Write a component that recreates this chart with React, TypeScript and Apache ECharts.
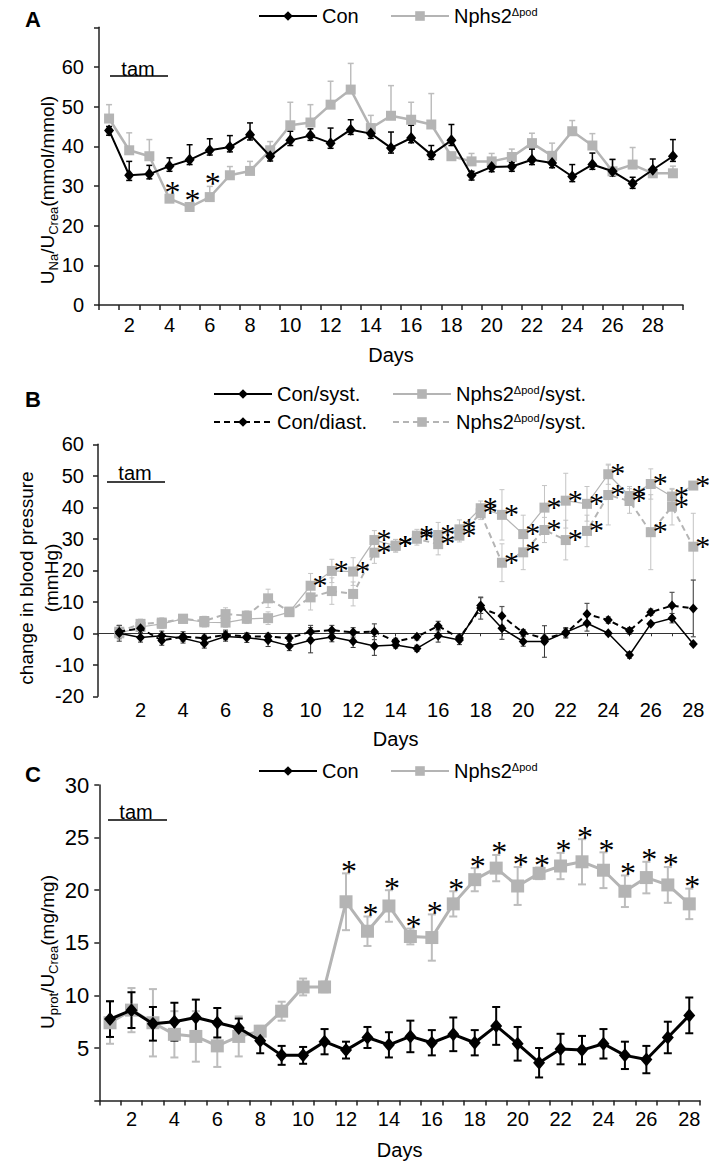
import React, { useEffect, useRef } from 'react';
import * as echarts from 'echarts';

const FONT = "'Liberation Sans', Arial, Helvetica, sans-serif";
const STAR_FONT = "'Liberation Serif', 'Times New Roman', serif";
const BLACK = '#000000';
const GRAY = '#b4b4b4';
const AXIS = '#222222';

// ---------- Panel A: U_Na / U_Crea ----------
const daysA = ['1','2','3','4','5','6','7','8','9','10','11','12','13','14','15','16','17','18','19','20','21','22','23','24','25','26','27','28','29'];
const conA = [44, 32.7, 33, 35, 36.6, 39, 39.8, 42.9, 37.5, 41.5, 42.7, 40.8, 44.2, 43.2, 39.6, 42.1, 37.9, 41.5, 32.7, 34.8, 34.9, 36.6, 35.8, 32.4, 35.4, 33.7, 30.6, 34.1, 37.5];
const conAErrHi = [1, 3.5, 2.2, 2.1, 3.8, 2.9, 2.9, 3, 1, 2.3, 1.7, 3.8, 2.5, 2, 4, 3.2, 2.3, 4, 1, 1, 1, 2.7, 1, 3, 2.9, 3, 1.6, 2.7, 4.2];
const conAErrLo = [1.2, 1.3, 1.2, 1.3, 1.2, 1.2, 1.2, 1.3, 1.2, 1.3, 1.2, 1.3, 1.2, 1.2, 1.3, 1.2, 1.2, 1.3, 1.2, 1.2, 1.2, 1.2, 1.2, 1.3, 1.2, 1.2, 1.2, 1.2, 1.3];
const nphA = [47, 39, 37.5, 26.8, 24.7, 27.2, 32.7, 33.8, 39, 45.3, 46, 50.5, 54.3, 44.6, 47.7, 46.7, 45.5, 37.5, 36.2, 36.2, 37.3, 40.8, 37.6, 43.8, 40.2, 33.7, 35.4, 33.2, 33.2];
const nphAErr = [3.5, 4.4, 4.2, 1, 1, 2.7, 2.2, 2.4, 2.2, 5.8, 4.5, 5.9, 6.6, 3.2, 7.6, 4.4, 7.8, 1, 2, 2, 2, 2.5, 3.2, 2.7, 3, 3, 4.3, 1, 1.8];
const starDaysA = [4, 5, 6];
const yTicksA = [0, 10, 20, 30, 40, 50, 60];

// ---------- Panel B: blood pressure ----------
const daysB = [1,2,3,4,5,6,7,8,9,10,11,12,13,14,15,16,17,18,19,20,21,22,23,24,25,26,27,28];
const conSys = [0, -1.3, -0.8, -1.6, -3.2, -1.0, -1.4, -2.2, -4.0, -2.2, -1.2, -2.5, -4.0, -3.7, -4.8, -0.8, -2.1, 8.8, 1.6, -2.6, -2.6, 0.3, 3.2, 0, -6.9, 3, 4.8, -3.4];
const conSysErr = [2.5, 1.5, 1.5, 1.5, 1.5, 1.5, 1.5, 2, 1.5, 4, 1.5, 2, 3, 1, 1, 2, 1.5, 2.5, 3.5, 1.5, 5, 1.5, 2.5, 0.5, 1, 0.5, 1.5, 0.5];
const conDia = [0.5, 1.6, -2.3, -1.0, -1.6, -0.5, -1.0, -1.0, -1.5, 0.5, 1.0, 0.3, 0.5, -2.6, -1.1, 2.3, -1.5, 8.0, 5.5, 0.2, -1.6, 0, 6.1, 4.2, 0.8, 6.7, 8.8, 7.9];
const conDiaErr = [2, 1, 1.5, 1.5, 1, 1.5, 1, 1, 1, 2, 1.5, 1.5, 2.5, 1, 1, 1.5, 1, 3.5, 3, 1, 1.5, 1.5, 3.4, 1, 1, 1, 4.2, 9];
const nphSys = [0, 2.0, 3.0, 4.6, 3.5, 3.4, 4.6, 4.8, 6.7, 15.1, 19.8, 19.6, 29.6, 27.8, 31, 31.2, 33, 39.7, 37.6, 31.5, 39.9, 42.1, 41.1, 50.5, 43.6, 47.4, 43.4, 46.9];
const nphSysErr = [2, 1.5, 1.5, 1, 1.5, 1.5, 1.5, 2, 1, 3.9, 3.7, 4.4, 3, 2, 2, 4, 3, 2.3, 8, 6, 7, 8.7, 5.5, 3.2, 3, 4.8, 2.3, 1];
const nphDia = [0.5, 3.0, 3.4, 4.6, 3.9, 6.1, 5.6, 11.1, 6.9, 11.4, 13.4, 12.5, 25.6, 27.8, 30, 28.3, 31, 38.1, 22.4, 25.7, 32.8, 29.6, 32.5, 43.9, 42, 32.1, 40.2, 27.5];
const nphDiaErr = [2, 1.5, 1.5, 1, 1.5, 2, 1.5, 2.9, 1, 4, 4.2, 3.8, 3.4, 2, 2, 3.4, 2, 2, 6, 5.5, 4, 6.3, 5, 9.5, 3.9, 11.9, 5.8, 10.6];
const starDaysBSys = [10,11,12,13,14,15,16,17,18,19,20,21,22,23,24,25,26,27,28];
const starDaysBDia = [13,14,15,16,17,18,19,20,21,22,23,24,25,26,27,28];

// ---------- Panel C: U_prot / U_Crea ----------
const daysC = ['1','2','3','4','5','6','7','8','9','10','11','12','13','14','15','16','17','18','19','20','21','22','23','24','25','26','27','28'];
const conC = [7.75, 8.6, 7.3, 7.5, 7.9, 7.4, 6.9, 5.7, 4.3, 4.3, 5.6, 4.8, 6.0, 5.3, 6.1, 5.5, 6.3, 5.5, 7.1, 5.4, 3.6, 4.9, 4.8, 5.4, 4.3, 3.9, 6.0, 8.1];
const conCErr = [1.7, 1.7, 1.6, 1.8, 1.7, 1.4, 0.9, 1.2, 0.9, 0.8, 1.2, 0.8, 1.0, 1.2, 1.5, 1.2, 1.6, 1.2, 1.8, 1.6, 1.4, 1.45, 1.35, 1.4, 1.3, 1.3, 1.5, 1.7];
const nphC = [7.4, 8.6, 7.4, 6.3, 6.1, 5.2, 6.1, 6.6, 8.5, 10.8, 10.8, 18.9, 16.1, 18.5, 15.6, 15.5, 18.7, 21.0, 22.1, 20.4, 21.6, 22.3, 22.7, 21.9, 19.9, 21.2, 20.5, 18.7];
const nphCErr = [2.0, 2.1, 3.2, 2.2, 2.4, 2.0, 1.9, 0.5, 0.9, 0.8, 0.5, 2.7, 1.4, 1.5, 0.75, 2.2, 1.2, 1.1, 1.25, 1.8, 0.55, 1.25, 2.15, 1.7, 1.5, 1.5, 1.7, 1.45];
const starDaysC = [12,13,14,15,16,17,18,19,20,21,22,23,24,25,26,27,28];

const LEGEND_TEXT: Record<string, string> = {
  Con_A: 'Con',
  Nph_A: 'Nphs2{sup|Δpod}',
  ConSys: 'Con/syst.',
  ConDia: 'Con/diast.',
  NphSys: 'Nphs2{sup|Δpod}/syst.',
  NphDia: 'Nphs2{sup|Δpod}/syst.',
  Con_C: 'Con',
  Nph_C: 'Nphs2{sup|Δpod}',
};

function errSeries(xi: number, yi: number, xs: number[], vals: number[], lo: number[], hi: number[], color: string, lw: number, cap: number) {
  return {
    type: 'custom',
    xAxisIndex: xi,
    yAxisIndex: yi,
    silent: true,
    z: 1,
    encode: { x: 0, y: 1 },
    data: vals.map((v, i) => [xs[i], v, lo[i], hi[i]]),
    renderItem: (params: any, api: any) => {
      const x = api.value(0);
      const v = api.value(1);
      const l = api.value(2);
      const h = api.value(3);
      const top = api.coord([x, v + h]);
      const bot = api.coord([x, v - l]);
      const style = { stroke: color, lineWidth: lw };
      const children: any[] = [
        { type: 'line', shape: { x1: top[0], y1: top[1], x2: bot[0], y2: bot[1] }, style },
      ];
      if (h > 0) children.push({ type: 'line', shape: { x1: top[0] - cap, y1: top[1], x2: top[0] + cap, y2: top[1] }, style });
      if (l > 0) children.push({ type: 'line', shape: { x1: bot[0] - cap, y1: bot[1], x2: bot[0] + cap, y2: bot[1] }, style });
      return { type: 'group', children };
    },
  };
}

function starSeries(xi: number, yi: number, pts: number[][], dx: number, dy: number, fs: number) {
  return {
    type: 'custom',
    xAxisIndex: xi,
    yAxisIndex: yi,
    silent: true,
    z: 5,
    encode: { x: 0, y: 1 },
    data: pts,
    renderItem: (params: any, api: any) => {
      const p = api.coord([api.value(0), api.value(1)]);
      return {
        type: 'text',
        x: p[0] + dx,
        y: p[1] + dy + 0.17 * fs,
        style: { text: '*', fontSize: fs, fontFamily: STAR_FONT, fill: BLACK, align: 'center', verticalAlign: 'middle' },
      };
    },
  };
}

function legendItem(name: string, left: number, top: number, itemWidth: number) {
  return {
    data: [name],
    left,
    top,
    orient: 'horizontal',
    itemWidth,
    itemHeight: 12,
    padding: 0,
    selectedMode: false,
    formatter: (n: string) => LEGEND_TEXT[n],
    textStyle: {
      fontSize: 20,
      fontFamily: FONT,
      color: BLACK,
      rich: { sup: { fontSize: 11, lineHeight: 12, verticalAlign: 'top', fontFamily: FONT, color: BLACK } },
    },
  };
}

const axisLineStyle = { show: true, lineStyle: { color: AXIS, width: 1.5 } };
const tickStyle = { show: true, length: 5, lineStyle: { color: AXIS, width: 1.5 } };

function buildOption() {
  const idxA = conA.map((_, i) => i);
  const idxC = conC.map((_, i) => i);

  const starsA = starDaysA.map((d) => [d - 1, nphA[d - 1] + nphAErr[d - 1]]);
  const starsBSys = starDaysBSys.map((d) => [d, nphSys[d - 1]]);
  const starsBDia = starDaysBDia.map((d) => [d, nphDia[d - 1]]);
  const starsC = starDaysC.map((d) => [d - 1, nphC[d - 1] + nphCErr[d - 1]]);

  const yNameRich = {
    n: { fontSize: 19, lineHeight: 20, verticalAlign: 'top', fontFamily: FONT, fill: BLACK },
    s: { fontSize: 13, lineHeight: 13, padding: [9, 0, 0, 0], verticalAlign: 'top', fontFamily: FONT, fill: BLACK },
  };

  return {
    animation: false,
    backgroundColor: '#ffffff',
    textStyle: { fontFamily: FONT },
    legend: [
      legendItem('Con_A', 258, 6, 58),
      legendItem('Nph_A', 390, 6, 58),
      legendItem('ConSys', 213, 384, 58),
      legendItem('NphSys', 392, 384, 58),
      legendItem('ConDia', 213, 412, 58),
      legendItem('NphDia', 392, 412, 58),
      legendItem('Con_C', 258, 761, 58),
      legendItem('Nph_C', 390, 761, 58),
    ],
    grid: [
      { left: 99, top: 27.3, width: 584, height: 277.7 },
      { left: 98, top: 444.3, width: 595.3, height: 252 },
      { left: 99.3, top: 785, width: 600.7, height: 315.6 },
    ],
    xAxis: [
      {
        type: 'category', gridIndex: 0, data: daysA, boundaryGap: true,
        axisLine: axisLineStyle,
        axisTick: { ...tickStyle, interval: 0, alignWithLabel: false },
        axisLabel: { interval: (i: number) => i % 2 === 1, fontSize: 20, color: BLACK, margin: 10, fontFamily: FONT },
        splitLine: { show: false },
        name: 'Days', nameLocation: 'middle', nameGap: 40,
        nameTextStyle: { fontSize: 20, color: BLACK, fontFamily: FONT },
      },
      {
        type: 'value', gridIndex: 1, min: 0, max: 28, interval: 1, position: 'bottom',
        axisLine: { show: false, onZero: false },
        axisTick: { show: false },
        axisLabel: { formatter: (v: number) => (v > 0 && v % 2 === 0 ? String(v) : ''), fontSize: 20, color: BLACK, margin: 4, fontFamily: FONT },
        splitLine: { show: false },
        name: 'Days', nameLocation: 'middle', nameGap: 33,
        nameTextStyle: { fontSize: 20, color: BLACK, fontFamily: FONT },
      },
      {
        type: 'value', gridIndex: 1, min: 0, max: 28, interval: 1, position: 'bottom',
        axisLine: { show: true, onZero: true, lineStyle: { color: '#333333', width: 1 } },
        axisTick: { show: true, length: 3, lineStyle: { color: '#333333', width: 1 } },
        axisLabel: { show: false },
        splitLine: { show: false },
      },
      {
        type: 'category', gridIndex: 2, data: daysC, boundaryGap: true,
        axisLine: axisLineStyle,
        axisTick: { ...tickStyle, interval: 0, alignWithLabel: false },
        axisLabel: { interval: (i: number) => i % 2 === 1, fontSize: 20, color: BLACK, margin: 8, fontFamily: FONT },
        splitLine: { show: false },
        name: 'Days', nameLocation: 'middle', nameGap: 39,
        nameTextStyle: { fontSize: 20, color: BLACK, fontFamily: FONT },
      },
    ],
    yAxis: [
      {
        type: 'value', gridIndex: 0, min: 0, max: 70, interval: 10,
        axisLine: axisLineStyle, axisTick: tickStyle,
        axisLabel: { formatter: (v: number) => (yTicksA.indexOf(v) >= 0 ? String(v) : ''), fontSize: 20, color: BLACK, margin: 15, fontFamily: FONT },
        splitLine: { show: false },
      },
      {
        type: 'value', gridIndex: 1, min: -20, max: 60, interval: 10,
        axisLine: { ...axisLineStyle, onZero: false }, axisTick: tickStyle,
        axisLabel: { fontSize: 20, color: BLACK, margin: 14, fontFamily: FONT },
        splitLine: { show: false },
      },
      {
        type: 'value', gridIndex: 2, min: 0, max: 30, interval: 5,
        axisLine: axisLineStyle, axisTick: tickStyle,
        axisLabel: { formatter: (v: number) => (v === 0 ? '' : String(v)), fontSize: 22, color: BLACK, margin: 10, fontFamily: FONT },
        splitLine: { show: false },
      },
    ],
    graphic: [
      { type: 'text', x: 33, y: 19, style: { text: 'A', fontSize: 22, fontWeight: 'bold', fontFamily: FONT, fill: BLACK, align: 'center', verticalAlign: 'middle' } },
      { type: 'text', x: 33, y: 399, style: { text: 'B', fontSize: 22, fontWeight: 'bold', fontFamily: FONT, fill: BLACK, align: 'center', verticalAlign: 'middle' } },
      { type: 'text', x: 33, y: 774, style: { text: 'C', fontSize: 22, fontWeight: 'bold', fontFamily: FONT, fill: BLACK, align: 'center', verticalAlign: 'middle' } },
      { type: 'text', x: 138, y: 69, style: { text: 'tam', fontSize: 20, fontFamily: FONT, fill: BLACK, align: 'center', verticalAlign: 'middle' } },
      { type: 'line', shape: { x1: 110, y1: 76, x2: 168, y2: 76 }, style: { stroke: BLACK, lineWidth: 1.5 } },
      { type: 'text', x: 135, y: 473, style: { text: 'tam', fontSize: 20, fontFamily: FONT, fill: BLACK, align: 'center', verticalAlign: 'middle' } },
      { type: 'line', shape: { x1: 107, y1: 482, x2: 165, y2: 482 }, style: { stroke: BLACK, lineWidth: 1.5 } },
      { type: 'text', x: 136, y: 812, style: { text: 'tam', fontSize: 20, fontFamily: FONT, fill: BLACK, align: 'center', verticalAlign: 'middle' } },
      { type: 'line', shape: { x1: 108, y1: 820, x2: 167, y2: 820 }, style: { stroke: BLACK, lineWidth: 1.5 } },
      {
        type: 'text', x: 48, y: 190, rotation: Math.PI / 2,
        style: { text: '{n|U}{s|Na}{n|/U}{s|Crea}{n|(mmol/mmol)}', rich: yNameRich, align: 'center', verticalAlign: 'middle', fontFamily: FONT, fill: BLACK },
      },
      {
        type: 'text', x: 39, y: 578, rotation: Math.PI / 2,
        style: { text: 'change in blood pressure\n(mmHg)', fontSize: 19, lineHeight: 25, fontFamily: FONT, fill: BLACK, align: 'center', verticalAlign: 'middle' },
      },
      {
        type: 'text', x: 48, y: 952, rotation: Math.PI / 2,
        style: { text: '{n|U}{s|prot}{n|/U}{s|Crea}{n|(mg/mg)}', rich: yNameRich, align: 'center', verticalAlign: 'middle', fontFamily: FONT, fill: BLACK },
      },
    ],
    series: [
      // Panel A
      errSeries(0, 0, idxA, nphA, nphA.map(() => 0), nphAErr, '#bdbdbd', 1.5, 3),
      errSeries(0, 0, idxA, conA, conAErrLo, conAErrHi, BLACK, 1.5, 3),
      {
        name: 'Nph_A', type: 'line', xAxisIndex: 0, yAxisIndex: 0, data: nphA, z: 2,
        symbol: 'rect', symbolSize: 10, itemStyle: { color: GRAY }, lineStyle: { color: GRAY, width: 2.5 },
      },
      {
        name: 'Con_A', type: 'line', xAxisIndex: 0, yAxisIndex: 0, data: conA, z: 3,
        symbol: 'diamond', symbolSize: [10, 12], itemStyle: { color: BLACK }, lineStyle: { color: BLACK, width: 2 },
      },
      starSeries(0, 0, starsA, 3, -8.5, 32),

      // Panel B
      errSeries(1, 1, daysB, nphSys, nphSysErr, nphSysErr, '#c4c4c4', 1, 2.5),
      errSeries(1, 1, daysB, nphDia, nphDiaErr, nphDiaErr, '#c4c4c4', 1, 2.5),
      errSeries(1, 1, daysB, conSys, conSysErr, conSysErr, '#333333', 1, 2.5),
      errSeries(1, 1, daysB, conDia, conDiaErr, conDiaErr, '#555555', 1.2, 2.5),
      {
        name: 'NphSys', type: 'line', xAxisIndex: 1, yAxisIndex: 1, z: 2,
        data: daysB.map((d, i) => [d, nphSys[i]]),
        symbol: 'rect', symbolSize: 10, itemStyle: { color: GRAY }, lineStyle: { color: GRAY, width: 1.2 },
      },
      {
        name: 'NphDia', type: 'line', xAxisIndex: 1, yAxisIndex: 1, z: 2,
        data: daysB.map((d, i) => [d, nphDia[i]]),
        symbol: 'rect', symbolSize: 10, itemStyle: { color: GRAY }, lineStyle: { color: GRAY, width: 2, type: [6, 4] },
      },
      {
        name: 'ConSys', type: 'line', xAxisIndex: 1, yAxisIndex: 1, z: 3,
        data: daysB.map((d, i) => [d, conSys[i]]),
        symbol: 'diamond', symbolSize: [9, 10], itemStyle: { color: BLACK }, lineStyle: { color: BLACK, width: 1.5 },
      },
      {
        name: 'ConDia', type: 'line', xAxisIndex: 1, yAxisIndex: 1, z: 3,
        data: daysB.map((d, i) => [d, conDia[i]]),
        symbol: 'diamond', symbolSize: [9, 10], itemStyle: { color: BLACK }, lineStyle: { color: BLACK, width: 2, type: [6, 4] },
      },
      starSeries(1, 1, starsBSys, 9.5, -6.5, 30),
      starSeries(1, 1, starsBDia, 9.5, -6.5, 30),

      // Panel C
      errSeries(3, 2, idxC, nphC, nphCErr, nphCErr, '#bdbdbd', 2, 4),
      errSeries(3, 2, idxC, conC, conCErr, conCErr, BLACK, 2, 4),
      {
        name: 'Nph_C', type: 'line', xAxisIndex: 3, yAxisIndex: 2, data: nphC, z: 2,
        symbol: 'rect', symbolSize: 13, itemStyle: { color: GRAY }, lineStyle: { color: GRAY, width: 3 },
      },
      {
        name: 'Con_C', type: 'line', xAxisIndex: 3, yAxisIndex: 2, data: conC, z: 3,
        symbol: 'diamond', symbolSize: [12, 14], itemStyle: { color: BLACK }, lineStyle: { color: BLACK, width: 3 },
      },
      starSeries(3, 2, starsC, 3, -8, 32),
    ],
  };
}

export default function App() {
  const ref = useRef<HTMLDivElement>(null);
  useEffect(() => {
    document.body.style.margin = '0';
    if (!ref.current) return;
    const chart = echarts.init(ref.current, undefined, { renderer: 'svg' });
    chart.setOption(buildOption() as any);
    return () => chart.dispose();
  }, []);
  return <div ref={ref} style={{ width: 709, height: 1169, position: 'absolute', left: 0, top: 0, background: '#fff' }} />;
}
